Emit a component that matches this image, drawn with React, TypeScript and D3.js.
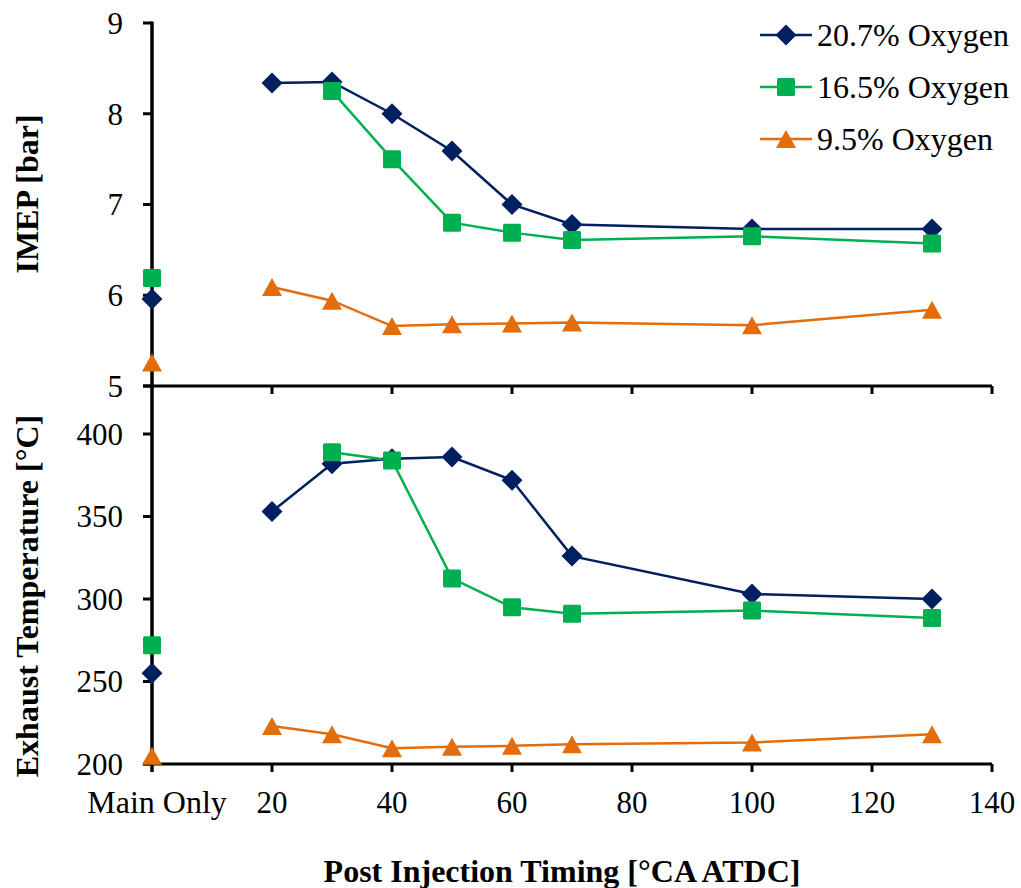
import React from "react";
import * as d3 from "d3";

const xValues = [20, 30, 40, 50, 60, 70, 100, 130];
const xTicks = [20, 40, 60, 80, 100, 120, 140];
const mainOnlyLabel = "Main Only";

const seriesNames = ["20.7% Oxygen", "16.5% Oxygen", "9.5% Oxygen"];
const seriesColors = ["#002060", "#00B050", "#E46C0A"];
const seriesShapes = ["diamond", "square", "triangle"];

// IMEP [bar]
const imepMainOnly = [5.96, 6.19, 5.26];
const imep207 = [8.34, 8.35, 8.0, 7.59, 7.0, 6.78, 6.73, 6.73];
const imep165 = [null, 8.25, 7.5, 6.8, 6.69, 6.61, 6.65, 6.57];
const imep95 = [6.09, 5.94, 5.66, 5.68, 5.69, 5.7, 5.67, 5.84];

// Exhaust temperature [°C]
const texMainOnly = [255, 272, 205];
const tex207 = [353, 382, 385, 386, 372, 326, 303, 300];
const tex165 = [null, 389, 384, 312.5, 295, 291, 293, 288.5];
const tex95 = [223, 218, 209.5, 210.5, 211, 212, 213, 218];

const imepTicks = [5, 6, 7, 8, 9];
const texTicks = [200, 250, 300, 350, 400];

const FONT = "'Liberation Serif', 'Times New Roman', serif";

function Marker({ shape, x, y, color }: { shape: string; x: number; y: number; color: string }) {
  if (shape === "diamond") {
    const r = 10.5;
    return <path d={`M${x},${y - r}L${x + r},${y}L${x},${y + r}L${x - r},${y}Z`} fill={color} />;
  }
  if (shape === "square") {
    const r = 9;
    return <rect x={x - r} y={y - r} width={2 * r} height={2 * r} rx={1.5} fill={color} />;
  }
  const w = 10;
  const h = 18;
  return <path d={`M${x},${y - h / 2}L${x + w},${y + h / 2}L${x - w},${y + h / 2}Z`} fill={color} />;
}

export default function App() {
  const width = 1021;
  const height = 888;
  const x = d3.scaleLinear().domain([0, 140]).range([152, 992]);
  const yTop = d3.scaleLinear().domain([5, 9]).range([386, 23]);
  const yBot = d3.scaleLinear().domain([200, 400]).range([764, 434]);

  const topSeries = [imep207, imep165, imep95];
  const botSeries = [tex207, tex165, tex95];

  const line = (ys: (number | null)[], yScale: d3.ScaleLinear<number, number>) =>
    d3
      .line<[number, number | null]>()
      .defined((d) => d[1] != null)
      .x((d) => x(d[0]))
      .y((d) => yScale(d[1] as number))(xValues.map((v, i) => [v, ys[i]]));

  const panel = (
    series: (number | null)[][],
    main: number[],
    yScale: d3.ScaleLinear<number, number>,
    ticks: number[],
    key: string
  ) => {
    const y0 = yScale.range()[0];
    return (
      <g key={key}>
        <line x1={143} x2={x(140)} y1={y0} y2={y0} stroke="#000" strokeWidth={3} />
        {xTicks.map((t) => (
          <line key={t} x1={x(t)} x2={x(t)} y1={y0} y2={y0 + 8} stroke="#000" strokeWidth={3} />
        ))}
        {ticks.map((t) => (
          <g key={t}>
            <line x1={143} x2={152} y1={yScale(t)} y2={yScale(t)} stroke="#000" strokeWidth={3} />
            <text
              x={123}
              y={yScale(t)}
              dy="0.35em"
              textAnchor="end"
              fontFamily={FONT}
              fontSize={31}
              fill="#000"
            >
              {t}
            </text>
          </g>
        ))}
        {series.map((s, i) => (
          <path key={i} d={line(s, yScale) || ""} fill="none" stroke={seriesColors[i]} strokeWidth={2.5} />
        ))}
        {series.map((s, i) =>
          s.map((v, j) =>
            v == null ? null : (
              <Marker key={`${i}-${j}`} shape={seriesShapes[i]} x={x(xValues[j])} y={yScale(v)} color={seriesColors[i]} />
            )
          )
        )}
        {main.map((v, i) => (
          <Marker key={`m${i}`} shape={seriesShapes[i]} x={x(0)} y={yScale(v)} color={seriesColors[i]} />
        ))}
      </g>
    );
  };

  return (
    <svg width={width} height={height} style={{ display: "block", position: "absolute", left: 0, top: 0 }}>
      <rect width={width} height={height} fill="#fff" />
      <line x1={152} x2={152} y1={yTop(9) - 1.5} y2={yBot(200) + 8} stroke="#000" strokeWidth={3.5} />
      {panel(topSeries, imepMainOnly, yTop, imepTicks, "top")}
      {panel(botSeries, texMainOnly, yBot, texTicks, "bot")}
      {xTicks.map((t) => (
        <text key={t} x={x(t)} y={813} textAnchor="middle" fontFamily={FONT} fontSize={31} fill="#000">
          {t}
        </text>
      ))}
      <text x={x(0) + 5} y={813} textAnchor="middle" fontFamily={FONT} fontSize={32} fill="#000">
        {mainOnlyLabel}
      </text>
      <text
        transform={`translate(27,194) rotate(-90)`}
        textAnchor="middle"
        dy="0.35em"
        fontFamily={FONT}
        fontSize={32}
        fontWeight="bold"
        fill="#000"
      >
        IMEP [bar]
      </text>
      <text
        transform={`translate(27,596) rotate(-90)`}
        textAnchor="middle"
        dy="0.35em"
        fontFamily={FONT}
        fontSize={32}
        fontWeight="bold"
        fill="#000"
      >
        Exhaust Temperature [°C]
      </text>
      <text x={562} y={882} textAnchor="middle" fontFamily={FONT} fontSize={32} fontWeight="bold" fill="#000">
        Post Injection Timing [°CA ATDC]
      </text>
      {seriesNames.map((n, i) => {
        const ly = 35 + i * 52;
        return (
          <g key={n}>
            <line x1={760} x2={812} y1={ly} y2={ly} stroke={seriesColors[i]} strokeWidth={2.5} />
            <Marker shape={seriesShapes[i]} x={786} y={ly} color={seriesColors[i]} />
            <text x={817} y={ly} dy="0.35em" fontFamily={FONT} fontSize={32} fill="#000">
              {n}
            </text>
          </g>
        );
      })}
    </svg>
  );
}
